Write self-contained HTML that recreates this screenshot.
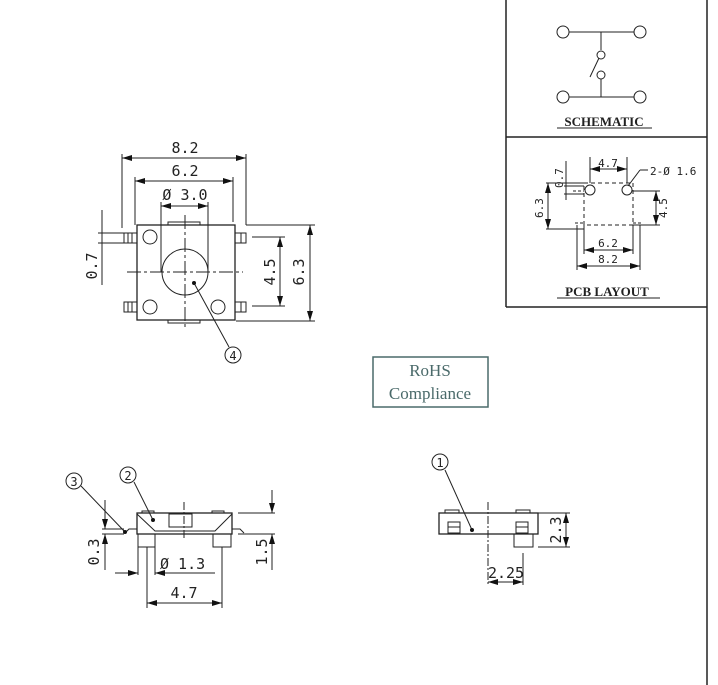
<!DOCTYPE html>
<html><head><style>
html,body{margin:0;padding:0;background:#fff;}
svg{display:block;}
text{font-family:"DejaVu Sans Mono","Liberation Mono",monospace;fill:#222;}
.s{font-family:"Liberation Serif",serif;font-weight:bold;}
</style></head><body>
<svg width="718" height="685" viewBox="0 0 718 685" xmlns="http://www.w3.org/2000/svg">
<defs>
<marker id="a" viewBox="0 0 10 6" refX="10" refY="3" markerWidth="10" markerHeight="6" orient="auto-start-reverse" markerUnits="userSpaceOnUse"><path d="M0,0 L10,3 L0,6z" fill="#111"/></marker>
</defs>
<g stroke="#222" fill="none" stroke-width="1">
<!-- frame -->
<line x1="506" y1="0" x2="506" y2="307" stroke-width="1.5"/>
<line x1="707" y1="0" x2="707" y2="685" stroke-width="1.5"/>
<line x1="506" y1="137" x2="707" y2="137" stroke-width="1.5"/>
<line x1="506" y1="307" x2="707" y2="307" stroke-width="1.5"/>
<!-- schematic -->
<circle cx="563" cy="32" r="6"/><circle cx="640" cy="32" r="6"/>
<line x1="569" y1="32" x2="634" y2="32"/><line x1="601" y1="32" x2="601" y2="50"/>
<circle cx="601" cy="55" r="4"/><circle cx="601" cy="75" r="4"/>
<line x1="599" y1="58" x2="590" y2="77"/>
<line x1="601" y1="79" x2="601" y2="97"/>
<circle cx="563" cy="97" r="6"/><circle cx="640" cy="97" r="6"/>
<line x1="569" y1="97" x2="634" y2="97"/>
<line x1="557" y1="128" x2="652" y2="128"/>
<!-- pcb layout -->
<rect x="584" y="183" width="49" height="42" stroke-dasharray="4,3"/>
<circle cx="590" cy="190" r="5"/><circle cx="627" cy="190" r="5"/>
<line x1="573" y1="191" x2="584" y2="191" stroke-dasharray="3,2"/><line x1="633" y1="191" x2="641" y2="191" stroke-dasharray="3,2"/>
<line x1="575" y1="223" x2="584" y2="223" stroke-dasharray="3,2"/><line x1="633" y1="223" x2="641" y2="223" stroke-dasharray="3,2"/>
<line x1="590" y1="157" x2="590" y2="183"/><line x1="627" y1="157" x2="627" y2="183"/>
<line x1="590" y1="169" x2="627" y2="169" marker-start="url(#a)" marker-end="url(#a)"/>
<line x1="628" y1="186" x2="640" y2="170"/><line x1="640" y1="170" x2="648" y2="170"/>
<line x1="566" y1="161" x2="566" y2="200"/><line x1="564" y1="186" x2="584" y2="186"/><line x1="564" y1="194" x2="584" y2="194"/>
<line x1="546" y1="183" x2="584" y2="183"/><line x1="546" y1="229" x2="584" y2="229"/>
<line x1="548" y1="183" x2="548" y2="229" marker-start="url(#a)" marker-end="url(#a)"/>
<line x1="633" y1="191" x2="660" y2="191"/><line x1="633" y1="225" x2="660" y2="225"/>
<line x1="656" y1="191" x2="656" y2="225" marker-start="url(#a)" marker-end="url(#a)"/>
<line x1="584" y1="225" x2="584" y2="254"/><line x1="633" y1="225" x2="633" y2="254"/>
<line x1="584" y1="250" x2="633" y2="250" marker-start="url(#a)" marker-end="url(#a)"/>
<line x1="577" y1="225" x2="577" y2="270"/><line x1="640" y1="225" x2="640" y2="270"/>
<line x1="577" y1="266" x2="640" y2="266" marker-start="url(#a)" marker-end="url(#a)"/>
<line x1="557" y1="298" x2="660" y2="298"/>
<!-- top view -->
<rect x="137" y="225" width="98" height="95" stroke-width="1.3"/>
<rect x="168" y="222" width="32" height="3"/><rect x="168" y="320" width="32" height="3"/>
<rect x="124" y="233" width="13" height="10"/><rect x="124" y="302" width="13" height="10"/>
<rect x="235" y="233" width="11" height="10"/><rect x="235" y="302" width="11" height="10"/>
<line x1="128" y1="233" x2="128" y2="243"/><line x1="132" y1="233" x2="132" y2="243"/>
<line x1="128" y1="302" x2="128" y2="312"/><line x1="132" y1="302" x2="132" y2="312"/>
<line x1="241" y1="233" x2="241" y2="243"/><line x1="241" y1="302" x2="241" y2="312"/>
<circle cx="150" cy="237" r="7"/><circle cx="150" cy="307" r="7"/><circle cx="218" cy="307" r="7"/>
<circle cx="185" cy="272" r="23"/>
<line x1="185" y1="215" x2="185" y2="330" stroke-dasharray="14,3,3,3"/>
<line x1="127" y1="272" x2="243" y2="272" stroke-dasharray="14,3,3,3"/>
<line x1="122" y1="154" x2="122" y2="228"/><line x1="246" y1="154" x2="246" y2="225"/>
<line x1="122" y1="158" x2="246" y2="158" marker-start="url(#a)" marker-end="url(#a)"/>
<line x1="135" y1="177" x2="135" y2="225"/><line x1="233" y1="177" x2="233" y2="222"/>
<line x1="135" y1="181" x2="233" y2="181" marker-start="url(#a)" marker-end="url(#a)"/>
<line x1="161" y1="202" x2="161" y2="272"/><line x1="208" y1="202" x2="208" y2="272"/>
<line x1="161" y1="206" x2="208" y2="206" marker-start="url(#a)" marker-end="url(#a)"/>
<line x1="102" y1="210" x2="102" y2="285"/><line x1="98" y1="233" x2="124" y2="233"/><line x1="98" y1="243" x2="124" y2="243"/>
<line x1="246" y1="225" x2="315" y2="225"/><line x1="236" y1="321" x2="315" y2="321"/>
<line x1="310" y1="225" x2="310" y2="321" marker-start="url(#a)" marker-end="url(#a)"/>
<line x1="252" y1="237" x2="285" y2="237"/><line x1="252" y1="306" x2="285" y2="306"/>
<line x1="280" y1="237" x2="280" y2="306" marker-start="url(#a)" marker-end="url(#a)"/>
<line x1="194" y1="283" x2="229" y2="347"/>
<circle cx="233" cy="355" r="8"/>
<!-- RoHS -->
<rect x="373" y="357" width="115" height="50" stroke="#4a6a6a" stroke-width="1.5"/>
<!-- side view left -->
<rect x="137" y="513" width="95" height="21" stroke-width="1.3"/>
<rect x="142" y="511" width="12" height="2"/><rect x="212" y="511" width="12" height="2"/>
<polyline points="137,514 155,531 215,531 232,514"/>
<rect x="169" y="514" width="23" height="13"/>
<rect x="138" y="534" width="17" height="13"/><rect x="213" y="534" width="18" height="13"/>
<path d="M137,529 L129,529 L126,532"/><path d="M232,529 L240,529 L244,533"/>
<line x1="184" y1="502" x2="184" y2="540" stroke-dasharray="8,2,2,2"/>
<line x1="238" y1="513" x2="275" y2="513"/><line x1="238" y1="534" x2="275" y2="534"/>
<line x1="272" y1="490" x2="272" y2="513" marker-end="url(#a)"/><line x1="272" y1="570" x2="272" y2="534" marker-end="url(#a)"/>
<line x1="105" y1="500" x2="105" y2="529" marker-end="url(#a)"/><line x1="105" y1="570" x2="105" y2="534" marker-end="url(#a)"/>
<line x1="102" y1="529" x2="124" y2="529"/><line x1="102" y1="534" x2="124" y2="534"/>
<line x1="138" y1="547" x2="138" y2="575"/><line x1="147" y1="547" x2="147" y2="608"/><line x1="155" y1="547" x2="155" y2="575"/>
<line x1="115" y1="573" x2="138" y2="573" marker-end="url(#a)"/><line x1="215" y1="573" x2="155" y2="573"/><line x1="170" y1="573" x2="155" y2="573" marker-end="url(#a)"/>
<line x1="222" y1="547" x2="222" y2="608"/>
<line x1="147" y1="603" x2="222" y2="603" marker-start="url(#a)" marker-end="url(#a)"/>
<line x1="125" y1="532" x2="81" y2="486"/><circle cx="74" cy="481" r="8"/>
<line x1="153" y1="520" x2="134" y2="482"/><circle cx="128" cy="475" r="8"/>
<!-- side view right -->
<rect x="439" y="513" width="99" height="21" stroke-width="1.3"/>
<rect x="445" y="510" width="14" height="3"/><rect x="516" y="510" width="14" height="3"/>
<rect x="448" y="522" width="12" height="11"/><line x1="448" y1="527" x2="460" y2="527"/>
<rect x="516" y="522" width="12" height="11"/><line x1="516" y1="527" x2="528" y2="527"/>
<rect x="514" y="534" width="19" height="13"/>
<line x1="488" y1="502" x2="488" y2="585" stroke-dasharray="8,2,2,2"/>
<line x1="538" y1="513" x2="570" y2="513"/><line x1="538" y1="547" x2="570" y2="547"/>
<line x1="566" y1="513" x2="566" y2="547" marker-start="url(#a)" marker-end="url(#a)"/>
<line x1="523" y1="553" x2="523" y2="585"/>
<line x1="488" y1="582" x2="523" y2="582" marker-start="url(#a)" marker-end="url(#a)"/>
<line x1="472" y1="530" x2="445" y2="470"/><circle cx="440" cy="462" r="8"/>
</g>
<g fill="#111"><circle cx="194" cy="283" r="2"/><circle cx="125" cy="532" r="2"/><circle cx="153" cy="520" r="2"/><circle cx="472" cy="530" r="2"/></g>
<!-- text -->
<text x="185" y="153" font-size="15" text-anchor="middle">8.2</text>
<text x="185" y="176" font-size="15" text-anchor="middle">6.2</text>
<text x="185" y="200" font-size="15" text-anchor="middle">Ø 3.0</text>
<text x="0" y="0" font-size="15" text-anchor="middle" transform="translate(97,266) rotate(-90)">0.7</text>
<text x="0" y="0" font-size="15" text-anchor="middle" transform="translate(275,272) rotate(-90)">4.5</text>
<text x="0" y="0" font-size="15" text-anchor="middle" transform="translate(304,272) rotate(-90)">6.3</text>
<text x="233" y="360" font-size="12" text-anchor="middle">4</text>
<text x="74" y="486" font-size="12" text-anchor="middle">3</text>
<text x="128" y="480" font-size="12" text-anchor="middle">2</text>
<text x="440" y="467" font-size="12" text-anchor="middle">1</text>
<text x="0" y="0" font-size="15" text-anchor="middle" transform="translate(99,552) rotate(-90)">0.3</text>
<text x="0" y="0" font-size="15" text-anchor="middle" transform="translate(267,552) rotate(-90)">1.5</text>
<text x="160" y="569" font-size="15">Ø 1.3</text>
<text x="184" y="598" font-size="15" text-anchor="middle">4.7</text>
<text x="0" y="0" font-size="15" text-anchor="middle" transform="translate(561,530) rotate(-90)">2.3</text>
<text x="506" y="578" font-size="15" text-anchor="middle">2.25</text>
<text x="430" y="376" font-size="17" text-anchor="middle" style="font-family:'Liberation Serif',serif;fill:#4a6a6a">RoHS</text>
<text x="430" y="399" font-size="17" text-anchor="middle" style="font-family:'Liberation Serif',serif;fill:#4a6a6a">Compliance</text>
<text x="604" y="126" font-size="13" text-anchor="middle" class="s">SCHEMATIC</text>
<text x="608" y="167" font-size="11" text-anchor="middle">4.7</text>
<text x="650" y="175" font-size="11">2-Ø 1.6</text>
<text x="0" y="0" font-size="11" text-anchor="middle" transform="translate(563,178) rotate(-90)">0.7</text>
<text x="0" y="0" font-size="11" text-anchor="middle" transform="translate(543,208) rotate(-90)">6.3</text>
<text x="0" y="0" font-size="11" text-anchor="middle" transform="translate(667,208) rotate(-90)">4.5</text>
<text x="608" y="247" font-size="11" text-anchor="middle">6.2</text>
<text x="608" y="263" font-size="11" text-anchor="middle">8.2</text>
<text x="607" y="296" font-size="13" text-anchor="middle" class="s">PCB LAYOUT</text>
</svg>
</body></html>
